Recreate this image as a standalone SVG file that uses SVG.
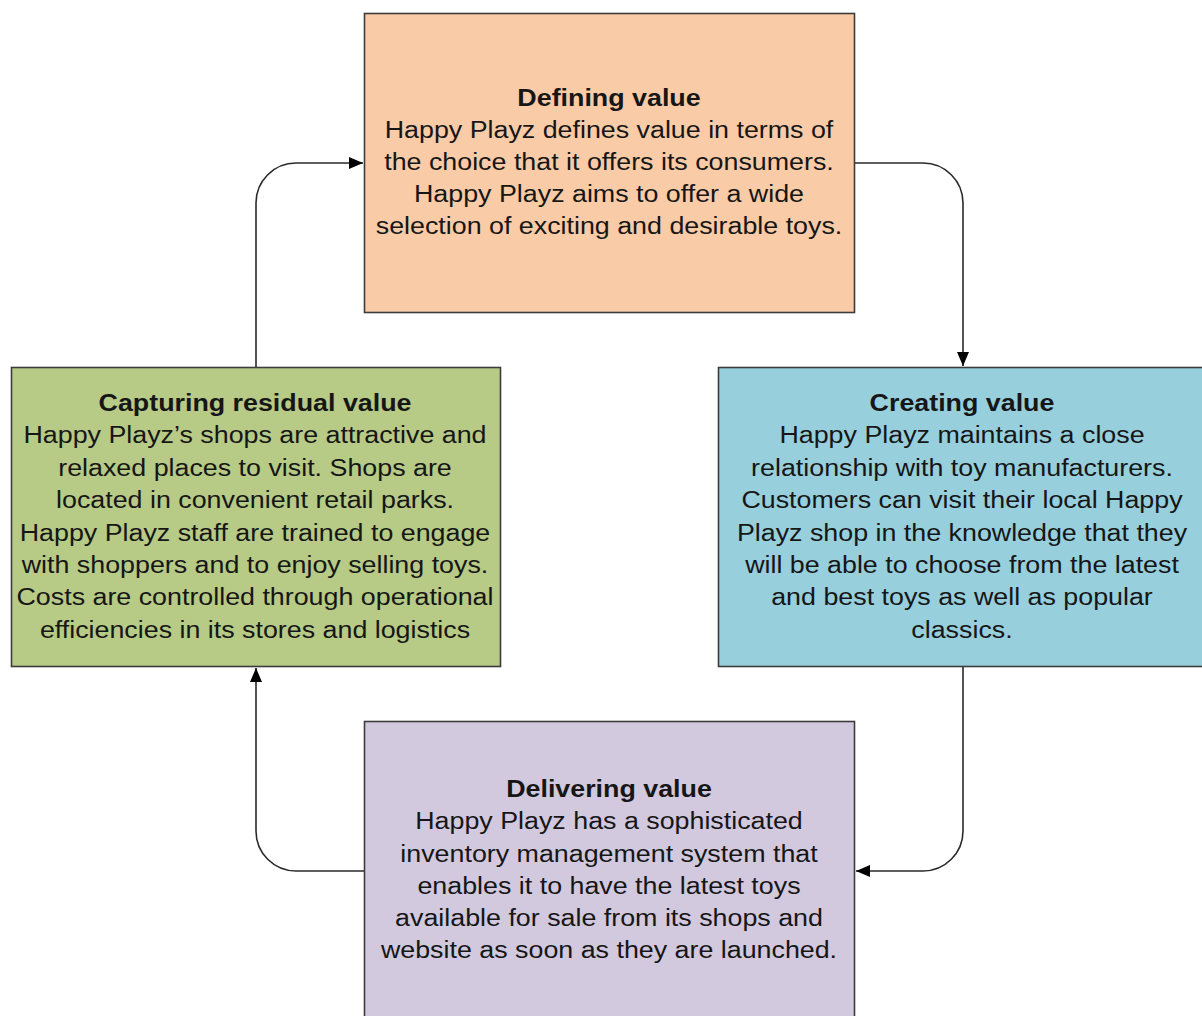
<svg xmlns="http://www.w3.org/2000/svg" width="1202" height="1016" viewBox="0 0 1202 1016">
<defs>
<style>
.box{stroke:#3c3c3c;stroke-width:1.6}
.t{font-family:"Liberation Sans",Arial,sans-serif;font-size:24.4px;fill:#161616;text-anchor:middle}
.b{font-weight:bold}
.c{fill:none;stroke:#2a2a2a;stroke-width:1.6}
</style>
<marker id="ah" viewBox="0 0 14 12" refX="14" refY="6" markerWidth="14" markerHeight="12" markerUnits="userSpaceOnUse" orient="auto">
<path d="M0,0 L14,6 L0,12 Z" fill="#000"/>
</marker>
</defs>
<rect width="1202" height="1016" fill="#fff"/>
<g id="connectors">
<path class="c" d="M855,163 H923 A40,40 0 0 1 963,203 V366" marker-end="url(#ah)"/>
<path class="c" d="M963,667 V831 A40,40 0 0 1 923,871 H856" marker-end="url(#ah)"/>
<path class="c" d="M364,871 H296 A40,40 0 0 1 256,831 V668" marker-end="url(#ah)"/>
<path class="c" d="M256,367 V203 A40,40 0 0 1 296,163 H363" marker-end="url(#ah)"/>
</g>
<g id="defining">
<rect class="box" x="364.5" y="13.5" width="490" height="299" fill="#F9CBA7"/>
<g transform="translate(609 0) scale(1.1 1)">
<text class="t b" x="0" y="106">Defining value</text>
<text class="t" x="0" y="138">Happy Playz defines value in terms of</text>
<text class="t" x="0" y="170">the choice that it offers its consumers.</text>
<text class="t" x="0" y="202">Happy Playz aims to offer a wide</text>
<text class="t" x="0" y="234">selection of exciting and desirable toys.</text>
</g>
</g>
<g id="creating">
<rect class="box" x="718.5" y="367.5" width="492" height="299" fill="#97CFDD"/>
<g transform="translate(962 0) scale(1.1 1)">
<text class="t b" x="0" y="411">Creating value</text>
<text class="t" x="0" y="443">Happy Playz maintains a close</text>
<text class="t" x="0" y="476">relationship with toy manufacturers.</text>
<text class="t" x="0" y="508">Customers can visit their local Happy</text>
<text class="t" x="0" y="541">Playz shop in the knowledge that they</text>
<text class="t" x="0" y="573">will be able to choose from the latest</text>
<text class="t" x="0" y="605">and best toys as well as popular</text>
<text class="t" x="0" y="638">classics.</text>
</g>
</g>
<g id="delivering">
<rect class="box" x="364.5" y="721.5" width="490" height="310" fill="#D2C9DF"/>
<g transform="translate(609 0) scale(1.1 1)">
<text class="t b" x="0" y="797">Delivering value</text>
<text class="t" x="0" y="829">Happy Playz has a sophisticated</text>
<text class="t" x="0" y="862">inventory management system that</text>
<text class="t" x="0" y="894">enables it to have the latest toys</text>
<text class="t" x="0" y="926">available for sale from its shops and</text>
<text class="t" x="0" y="958">website as soon as they are launched.</text>
</g>
</g>
<g id="capturing">
<rect class="box" x="11.5" y="367.5" width="489" height="299" fill="#B7CA86"/>
<g transform="translate(255 0) scale(1.1 1)">
<text class="t b" x="0" y="411">Capturing residual value</text>
<text class="t" x="0" y="443">Happy Playz’s shops are attractive and</text>
<text class="t" x="0" y="476">relaxed places to visit. Shops are</text>
<text class="t" x="0" y="508">located in convenient retail parks.</text>
<text class="t" x="0" y="541">Happy Playz staff are trained to engage</text>
<text class="t" x="0" y="573">with shoppers and to enjoy selling toys.</text>
<text class="t" x="0" y="605">Costs are controlled through operational</text>
<text class="t" x="0" y="638">efficiencies in its stores and logistics</text>
</g>
</g>
</svg>
